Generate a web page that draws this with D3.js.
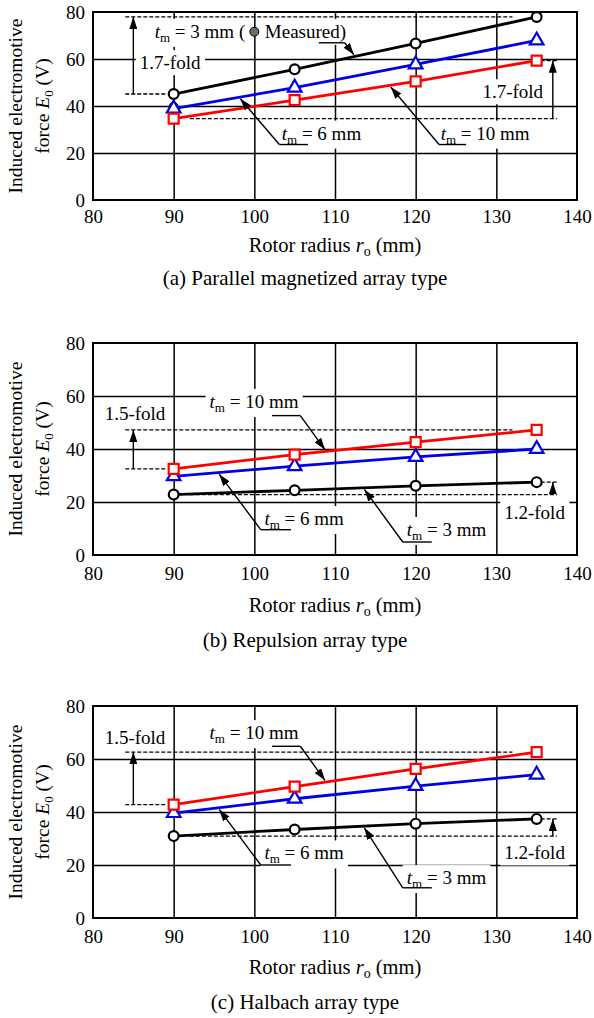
<!DOCTYPE html>
<html>
<head>
<meta charset="utf-8">
<script src="https://cdn.jsdelivr.net/npm/d3@7"></script>
<style>
body { margin: 0; background: #fff; }
svg text { font-family: "Liberation Serif", "Times New Roman", serif; fill: #000; }
</style>
</head>
<body>
<script>
const width = 594;
const height = 1018;
const left = 93;
const right = 577;

// data
const radius = [90, 105, 120, 135];
const xTicks = [80, 90, 100, 110, 120, 130, 140];
const yTicks = [0, 20, 40, 60, 80];

const parallel3 = [45.1, 55.6, 66.6, 77.9];
const parallel6 = [38.9, 47.8, 57.7, 67.9];
const parallel10 = [34.6, 42.5, 50.5, 59.3];
const measuredR = [90];
const measuredE = [39.7];

const repulsion3 = [22.8, 24.4, 26.1, 27.5];
const repulsion6 = [29.7, 33.5, 37.0, 40.0];
const repulsion10 = [32.5, 37.9, 42.6, 47.2];

const halbach3 = [30.9, 33.4, 35.6, 37.4];
const halbach6 = [39.6, 45.0, 49.8, 54.1];
const halbach10 = [42.8, 49.6, 56.3, 62.6];

const captions = ['(a) Parallel magnetized array type', '(b) Repulsion array type', '(c) Halbach array type'];
const foldLabels = [['1.7-fold', '1.7-fold'], ['1.5-fold', '1.2-fold'], ['1.5-fold', '1.2-fold']];
const thickness = ['3', '6', '10'];

const svg = d3.select('body').append('svg')
    .attr('width', width)
    .attr('height', height);

const defs = svg.append('defs');
defs.append('marker')
    .attr('id', 'head')
    .attr('markerUnits', 'userSpaceOnUse')
    .attr('markerWidth', 12).attr('markerHeight', 8)
    .attr('refX', 12).attr('refY', 4)
    .attr('orient', 'auto')
    .append('path').attr('d', 'M0,0L12,4L0,8Z').attr('fill', '#000');

// tm label pieces
const tm = (mm) => [{t: 't', it: true}, {t: 'm', sub: true}, {t: ' = ' + mm + ' mm'}];

function addText(g, x, y, parts, size, anchor) {
    const t = g.append('text')
        .attr('x', x).attr('y', y)
        .attr('text-anchor', anchor || 'start')
        .style('font-size', size + 'px');
    let shift = 0;
    parts.forEach(p => {
        const ts = t.append('tspan').text(p.t);
        if (p.it) ts.style('font-style', 'italic');
        if (p.sub) {
            ts.attr('dy', 4).style('font-size', Math.round(size * 0.68) + 'px');
            shift = 4;
        } else if (shift) {
            ts.attr('dy', -shift);
            shift = 0;
        }
    });
    return t;
}

// text with a white box behind it, like the original text boxes
function boxedText(g, boxes, x, y, parts, anchor) {
    const t = addText(g, x, y, parts, 19, anchor);
    const b = t.node().getBBox();
    boxes.append('rect')
        .attr('x', b.x - 4).attr('y', b.y - 2)
        .attr('width', b.width + 8).attr('height', b.height + 4)
        .attr('fill', '#fff');
    return t;
}

function drawPanel(p) {
    const g = svg.append('g');
    const x = d3.scaleLinear().domain([80, 140]).range([left, right]);
    const y = d3.scaleLinear().domain([0, 80]).range([p.bottom, p.top]);
    const h = p.bottom - p.top;

    // grid
    g.append('g')
        .attr('transform', 'translate(0,' + p.bottom + ')')
        .call(d3.axisBottom(x).tickValues(xTicks.slice(1, -1)).tickSize(-h).tickFormat(''))
        .call(a => a.select('.domain').remove())
        .selectAll('line').attr('stroke', '#000').attr('stroke-width', 1.5);
    g.append('g')
        .attr('transform', 'translate(' + left + ',0)')
        .call(d3.axisLeft(y).tickValues(yTicks.slice(1, -1)).tickSize(-(right - left)).tickFormat(''))
        .call(a => a.select('.domain').remove())
        .selectAll('line').attr('stroke', '#000').attr('stroke-width', 1.5);

    const boxes = g.append('g');
    const dashes = g.append('g');
    const lines = g.append('g');
    const marks = g.append('g');
    const notes = g.append('g');
    const texts = g.append('g');

    // fold marks: dashed levels from the first and last point of a series
    function fold(series, side, text) {
        const lo = series[0], hi = series[series.length - 1];
        const dash = (x1, x2, v) => dashes.append('line')
            .attr('x1', x(x1)).attr('x2', x(x2)).attr('y1', y(v)).attr('y2', y(v))
            .attr('stroke', '#000').attr('stroke-width', 1.3).attr('stroke-dasharray', '4,2');
        let ax;
        if (side === 'left') {
            dash(84, 132, hi);
            dash(84, 89, lo);
            ax = 85;
        } else {
            dash(135.5, 137.5, hi);
            dash(92, 137.5, lo);
            ax = 137;
        }
        dashes.append('line')
            .attr('x1', x(ax)).attr('x2', x(ax)).attr('y1', y(lo)).attr('y2', y(hi))
            .attr('stroke', '#000').attr('stroke-width', 1.4)
            .attr('marker-end', 'url(#head)');
        boxedText(texts, boxes, x(text.x), y(text.y), [{t: text.label}], side === 'left' ? 'start' : 'end');
    }

    fold(p.leftFold, 'left', p.leftText);
    fold(p.rightFold, 'right', p.rightText);

    // series
    const line = d3.line().x((d, i) => x(radius[i])).y(d => y(d));
    p.series.forEach(s => {
        lines.append('path')
            .attr('d', line(s.values))
            .attr('fill', 'none')
            .attr('stroke', s.color)
            .attr('stroke-width', 2.8);
    });

    if (p.measured) {
        marks.selectAll('.measured')
            .data(measuredE)
            .enter().append('circle')
            .attr('cx', (d, i) => x(measuredR[i]))
            .attr('cy', d => y(d))
            .attr('r', 4.5)
            .attr('fill', '#6b6b6b')
            .attr('stroke', '#000')
            .attr('stroke-width', 1);
    }

    p.series.forEach(s => {
        const sel = marks.selectAll(null).data(s.values).enter();
        if (s.shape === 'circle') {
            sel.append('circle')
                .attr('cx', (d, i) => x(radius[i]))
                .attr('cy', d => y(d))
                .attr('r', 4.9)
                .attr('fill', '#fff').attr('stroke', s.color).attr('stroke-width', 2.2);
        } else {
            const sym = d3.symbol()
                .type(s.shape === 'square' ? d3.symbolSquare : d3.symbolTriangle)
                .size(s.shape === 'square' ? 100 : 80);
            sel.append('path')
                .attr('d', sym)
                .attr('transform', (d, i) => 'translate(' + x(radius[i]) + ',' + y(d) + ')')
                .attr('fill', '#fff').attr('stroke', s.color).attr('stroke-width', 2.2);
        }
    });

    // leaders with arrowheads pointing at the series lines
    p.leaders.forEach(l => {
        const s = p.series.find(d => d.mm === l.mm);
        const onLine = d3.scaleLinear().domain(radius).range(s.values);
        const y0 = y(l.line[2]);
        notes.append('line')
            .attr('x1', x(l.line[0])).attr('x2', x(l.line[1]))
            .attr('y1', y0).attr('y2', y0)
            .attr('stroke', '#000').attr('stroke-width', 1.4);
        const sx = x(l.from === 'left' ? l.line[0] : l.line[1]);
        let tx = x(l.tip), ty = y(onLine(l.tip));
        const len = Math.hypot(tx - sx, ty - y0);
        tx -= (tx - sx) / len * 2;
        ty -= (ty - y0) / len * 2;
        notes.append('line')
            .attr('x1', sx).attr('y1', y0).attr('x2', tx).attr('y2', ty)
            .attr('stroke', '#000').attr('stroke-width', 1.4)
            .attr('marker-end', 'url(#head)');
        if (l.text) boxedText(texts, boxes, x(l.text[0]), y(l.text[1]), tm(l.mm));
    });

    if (p.measured) {
        boxedText(texts, boxes, x(87.65), y(69), tm('3').concat([{t: ' ('}]));
        boxedText(texts, boxes, x(101.3), y(69), [{t: 'Measured)'}]);
        texts.append('circle')
            .attr('cx', x(100)).attr('cy', y(71.6))
            .attr('r', 4.5)
            .attr('fill', '#6b6b6b').attr('stroke', '#000').attr('stroke-width', 1);
    }

    // frame
    g.append('rect')
        .attr('x', left).attr('y', p.top)
        .attr('width', right - left).attr('height', h)
        .attr('fill', 'none').attr('stroke', '#000').attr('stroke-width', 2);

    // tick labels
    const xa = g.append('g')
        .attr('transform', 'translate(0,' + p.bottom + ')')
        .call(d3.axisBottom(x).tickValues(xTicks).tickSize(0).tickPadding(p.pad));
    xa.select('.domain').remove();
    xa.attr('font-size', null).attr('font-family', null).selectAll('text').style('font-size', '19px');
    const ya = g.append('g')
        .attr('transform', 'translate(' + left + ',0)')
        .call(d3.axisLeft(y).tickValues(yTicks).tickSize(0).tickPadding(8));
    ya.select('.domain').remove();
    ya.attr('font-size', null).attr('font-family', null).selectAll('text').style('font-size', '19px');

    // titles
    const cy = (p.top + p.bottom) / 2;
    addText(g, 0, 0, [{t: 'Induced electromotive'}], 19.5, 'middle')
        .attr('transform', 'translate(22,' + cy + ') rotate(-90)');
    addText(g, 0, 0, [{t: 'force '}, {t: 'E', it: true}, {t: '0', sub: true}, {t: ' (V)'}], 19.5, 'middle')
        .attr('transform', 'translate(49,' + cy + ') rotate(-90)');
    addText(g, (left + right) / 2, p.bottom + p.titleGap,
        [{t: 'Rotor radius '}, {t: 'r', it: true}, {t: 'o', sub: true}, {t: ' (mm)'}], 20.5, 'middle');
    addText(g, 305, p.bottom + p.captionGap, [{t: p.caption}], 21, 'middle');
}

drawPanel({
    top: 12, bottom: 200, pad: 10, titleGap: 52, captionGap: 85,
    caption: captions[0], measured: true,
    series: [
        {mm: thickness[0], values: parallel3, color: '#000', shape: 'circle'},
        {mm: thickness[1], values: parallel6, color: '#0000e6', shape: 'triangle'},
        {mm: thickness[2], values: parallel10, color: '#ff0000', shape: 'square'}
    ],
    leftFold: parallel3, leftText: {x: 85.8, y: 55.7, label: foldLabels[0][0]},
    rightFold: parallel10, rightText: {x: 135.8, y: 43.3, label: foldLabels[0][1]},
    leaders: [
        {mm: '3', line: [108.0, 111.2, 66.9], from: 'right', tip: 112.5},
        {mm: '6', text: [103.4, 25.7], line: [103.1, 106.65, 23.6], from: 'left', tip: 98.1},
        {mm: '10', text: [123.1, 25.7], line: [122.9, 126.25, 23.6], from: 'left', tip: 116.75}
    ]
});

drawPanel({
    top: 343, bottom: 555, pad: 11.5, titleGap: 57, captionGap: 92,
    caption: captions[1],
    series: [
        {mm: thickness[0], values: repulsion3, color: '#000', shape: 'circle'},
        {mm: thickness[1], values: repulsion6, color: '#0000e6', shape: 'triangle'},
        {mm: thickness[2], values: repulsion10, color: '#ff0000', shape: 'square'}
    ],
    leftFold: repulsion10, leftText: {x: 81.45, y: 50.9, label: foldLabels[1][0]},
    rightFold: repulsion3, rightText: {x: 138.5, y: 13.7, label: foldLabels[1][1]},
    leaders: [
        {mm: '10', text: [94.45, 55.5], line: [102.2, 105.7, 52.6], from: 'right', tip: 108.9},
        {mm: '6', text: [101.25, 11.3], line: [100.8, 104.55, 9.55], from: 'left', tip: 95.5},
        {mm: '3', text: [118.9, 7.2], line: [118.4, 122.0, 4.9], from: 'left', tip: 113.5}
    ]
});

drawPanel({
    top: 706, bottom: 918, pad: 11.5, titleGap: 56, captionGap: 91,
    caption: captions[2],
    series: [
        {mm: thickness[0], values: halbach3, color: '#000', shape: 'circle'},
        {mm: thickness[1], values: halbach6, color: '#0000e6', shape: 'triangle'},
        {mm: thickness[2], values: halbach10, color: '#ff0000', shape: 'square'}
    ],
    leftFold: halbach10, leftText: {x: 81.45, y: 65.7, label: foldLabels[2][0]},
    rightFold: halbach3, rightText: {x: 138.5, y: 22.1, label: foldLabels[2][1]},
    leaders: [
        {mm: '10', text: [94.45, 67.5], line: [102.2, 105.7, 64.8], from: 'right', tip: 108.9},
        {mm: '6', text: [101.25, 22.1], line: [100.8, 104.55, 20.0], from: 'left', tip: 95.5},
        {mm: '3', text: [118.9, 12.8], line: [118.4, 122.0, 11.4], from: 'left', tip: 113.5}
    ]
});
</script>
</body>
</html>
